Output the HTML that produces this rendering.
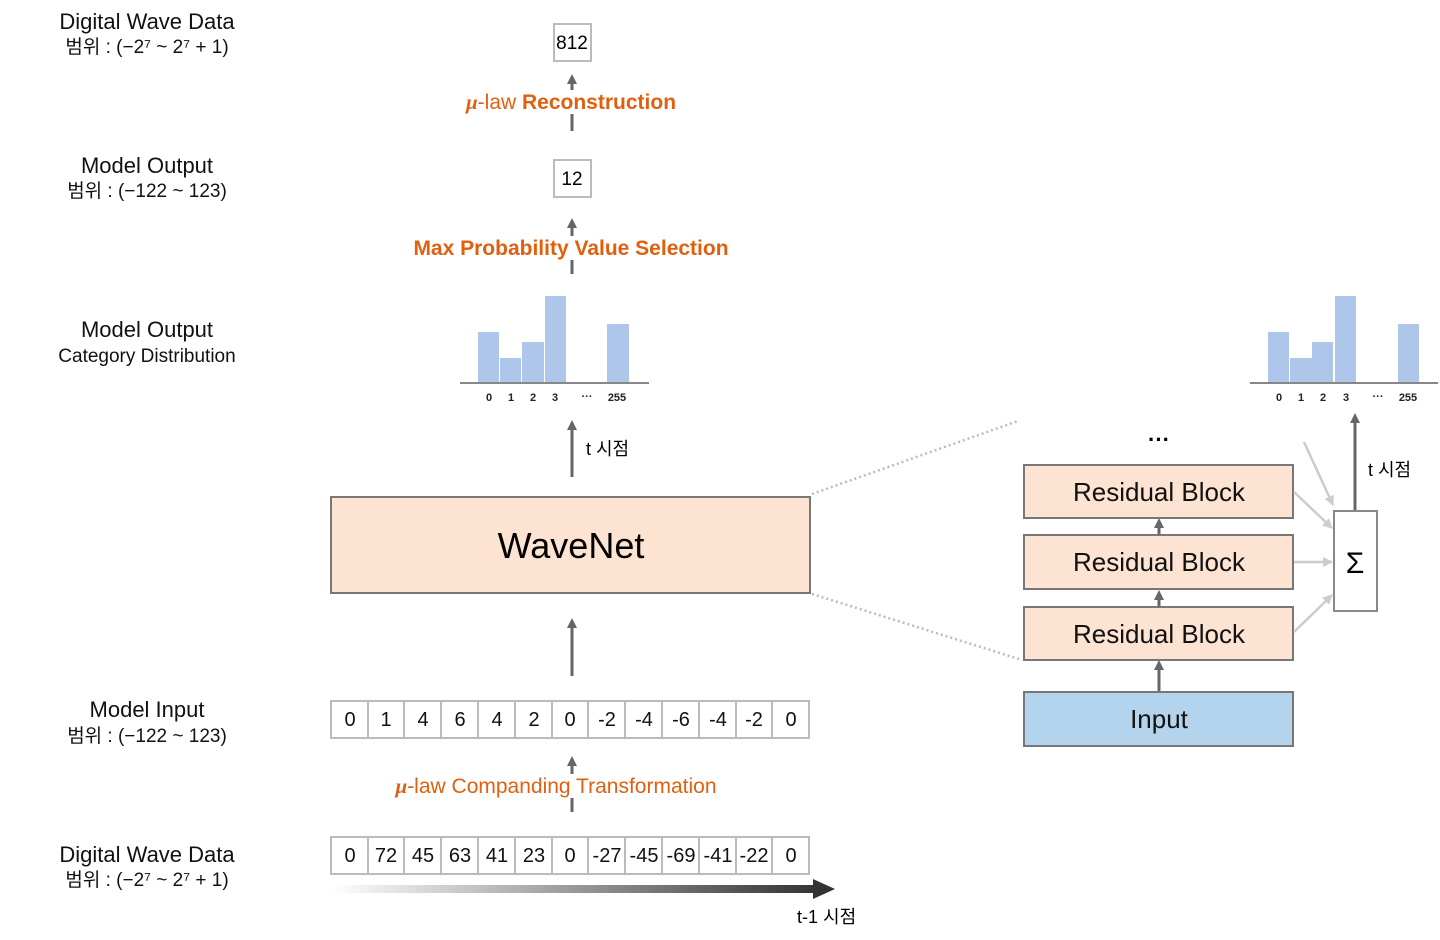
<!DOCTYPE html>
<html><head><meta charset="utf-8"><style>body{margin:0;background:#fff}svg{display:block}text{font-family:"Liberation Sans","Noto Sans CJK KR",sans-serif}</style></head><body>
<svg width="1440" height="940" viewBox="0 0 1440 940" xmlns="http://www.w3.org/2000/svg">
<defs>
<marker id="ah" markerWidth="10" markerHeight="10" refX="4" refY="5" orient="auto" markerUnits="userSpaceOnUse"><path d="M0,0 L10,5 L0,10 z" fill="#666"/></marker>
<marker id="al" markerWidth="10" markerHeight="10" refX="9" refY="5" orient="auto" markerUnits="userSpaceOnUse"><path d="M0,0 L10,5 L0,10 z" fill="#ccc"/></marker>
<linearGradient id="g" x1="0" x2="1"><stop offset="0" stop-color="#fff"/><stop offset="1" stop-color="#333"/></linearGradient>
</defs>
<g font-size="22" text-anchor="middle" fill="#111">
<text x="147" y="29">Digital Wave Data</text>
<text x="147" y="53" font-size="19">범위 : (−2⁷ ~ 2⁷ + 1)</text>
<text x="147" y="173">Model Output</text>
<text x="147" y="197" font-size="19">범위 : (−122 ~ 123)</text>
<text x="147" y="337">Model Output</text>
<text x="147" y="362" font-size="19">Category Distribution</text>
<text x="147" y="717">Model Input</text>
<text x="147" y="742" font-size="19">범위 : (−122 ~ 123)</text>
<text x="147" y="862">Digital Wave Data</text>
<text x="147" y="886" font-size="19">범위 : (−2⁷ ~ 2⁷ + 1)</text>
</g>
<g stroke="#bbb" stroke-width="2" fill="#fff"><rect x="554" y="24" width="37" height="37"/><rect x="554" y="160" width="37" height="37"/></g>
<text x="572" y="49" font-size="19" text-anchor="middle">812</text>
<text x="572" y="185" font-size="19" text-anchor="middle">12</text>
<g stroke="#666" stroke-width="3">
<line x1="572" y1="131" x2="572" y2="80" marker-end="url(#ah)"/>
<line x1="572" y1="274" x2="572" y2="224" marker-end="url(#ah)"/>
<line x1="572" y1="477" x2="572" y2="426" marker-end="url(#ah)"/>
<line x1="572" y1="676" x2="572" y2="624" marker-end="url(#ah)"/>
<line x1="572" y1="812" x2="572" y2="762" marker-end="url(#ah)"/>
<line x1="1355" y1="511" x2="1355" y2="419" marker-end="url(#ah)"/>
<line x1="1159" y1="535" x2="1159" y2="524" marker-end="url(#ah)"/>
<line x1="1159" y1="607" x2="1159" y2="596" marker-end="url(#ah)"/>
<line x1="1159" y1="692" x2="1159" y2="666" marker-end="url(#ah)"/>
</g>
<g fill="#e0600f" font-weight="bold" font-size="21" text-anchor="middle">
<rect x="462" y="90" width="218" height="24" fill="#fff"/>
<text x="571" y="109"><tspan font-style="italic" font-family="Liberation Serif">μ</tspan><tspan font-weight="normal">-law</tspan> Reconstruction</text>
<rect x="408" y="236" width="326" height="24" fill="#fff"/>
<text x="571" y="255">Max Probability Value Selection</text>
<rect x="386" y="774" width="340" height="24" fill="#fff"/>
<text x="556" y="793" font-weight="normal"><tspan font-style="italic" font-family="Liberation Serif" font-weight="bold">μ</tspan>-law Companding Transformation</text>
</g>
<g fill="#aec6ea"><rect x="478" y="332" width="21" height="51"/><rect x="500" y="358" width="21" height="25"/><rect x="522" y="342" width="22" height="41"/><rect x="545" y="296" width="21" height="87"/><rect x="607" y="324" width="22" height="59"/>
<rect x="1268" y="332" width="21" height="51"/><rect x="1290" y="358" width="22" height="25"/><rect x="1312" y="342" width="21" height="41"/><rect x="1335" y="296" width="21" height="87"/><rect x="1398" y="324" width="21" height="59"/></g>
<g stroke="#888" stroke-width="2"><line x1="460" y1="383" x2="649" y2="383"/><line x1="1250" y1="383" x2="1438" y2="383"/></g>
<g font-size="11" font-weight="bold" text-anchor="middle" fill="#222">
<text x="489" y="401">0</text><text x="511" y="401">1</text><text x="533" y="401">2</text><text x="555" y="401">3</text><text x="587" y="400">···</text><text x="617" y="401">255</text>
<text x="1279" y="401">0</text><text x="1301" y="401">1</text><text x="1323" y="401">2</text><text x="1346" y="401">3</text><text x="1378" y="400">···</text><text x="1408" y="401">255</text>
</g>
<text x="586" y="455" font-size="18">t 시점</text>
<text x="1368" y="476" font-size="18">t 시점</text>
<g stroke="#bbb" stroke-width="2.5" stroke-dasharray="2,3"><line x1="812" y1="494" x2="1018" y2="421"/><line x1="812" y1="594" x2="1022" y2="660"/></g>
<rect x="331" y="497" width="479" height="96" fill="#fde3d2" stroke="#777" stroke-width="2"/>
<text x="571" y="558" font-size="36" text-anchor="middle">WaveNet</text>
<g stroke="#bbb" stroke-width="2" fill="#fff">
<rect x="331" y="701" width="478" height="37"/><rect x="331" y="837" width="478" height="37"/>
</g>
<g stroke="#bbb" stroke-width="2">
<line x1="368" y1="701" x2="368" y2="738"/><line x1="404" y1="701" x2="404" y2="738"/><line x1="441" y1="701" x2="441" y2="738"/><line x1="478" y1="701" x2="478" y2="738"/><line x1="515" y1="701" x2="515" y2="738"/><line x1="552" y1="701" x2="552" y2="738"/><line x1="588" y1="701" x2="588" y2="738"/><line x1="625" y1="701" x2="625" y2="738"/><line x1="662" y1="701" x2="662" y2="738"/><line x1="699" y1="701" x2="699" y2="738"/><line x1="736" y1="701" x2="736" y2="738"/><line x1="772" y1="701" x2="772" y2="738"/>
<line x1="368" y1="837" x2="368" y2="874"/><line x1="404" y1="837" x2="404" y2="874"/><line x1="441" y1="837" x2="441" y2="874"/><line x1="478" y1="837" x2="478" y2="874"/><line x1="515" y1="837" x2="515" y2="874"/><line x1="552" y1="837" x2="552" y2="874"/><line x1="588" y1="837" x2="588" y2="874"/><line x1="625" y1="837" x2="625" y2="874"/><line x1="662" y1="837" x2="662" y2="874"/><line x1="699" y1="837" x2="699" y2="874"/><line x1="736" y1="837" x2="736" y2="874"/><line x1="772" y1="837" x2="772" y2="874"/>
</g>
<g font-size="20" text-anchor="middle" fill="#111">
<text x="350" y="726">0</text><text x="386" y="726">1</text><text x="423" y="726">4</text><text x="460" y="726">6</text><text x="497" y="726">4</text><text x="534" y="726">2</text><text x="570" y="726">0</text><text x="607" y="726">-2</text><text x="644" y="726">-4</text><text x="681" y="726">-6</text><text x="718" y="726">-4</text><text x="754" y="726">-2</text><text x="791" y="726">0</text>
<text x="350" y="862">0</text><text x="386" y="862">72</text><text x="423" y="862">45</text><text x="460" y="862">63</text><text x="497" y="862">41</text><text x="534" y="862">23</text><text x="570" y="862">0</text><text x="607" y="862">-27</text><text x="644" y="862">-45</text><text x="681" y="862">-69</text><text x="718" y="862">-41</text><text x="754" y="862">-22</text><text x="791" y="862">0</text>
</g>
<rect x="331" y="885" width="486" height="8" fill="url(#g)"/>
<path d="M813,879 L835,889 L813,899 z" fill="#333"/>
<text x="797" y="923" font-size="18">t-1 시점</text>
<text x="1159" y="447" font-size="22" font-weight="bold" text-anchor="middle">···</text>
<g stroke="#777" stroke-width="2" fill="#fde3d2">
<rect x="1024" y="465" width="269" height="53"/><rect x="1024" y="535" width="269" height="54"/><rect x="1024" y="607" width="269" height="53"/>
<rect x="1024" y="692" width="269" height="54" fill="#b4d4ee"/>
<rect x="1334" y="511" width="43" height="100" fill="#fff" stroke="#888"/>
</g>
<g font-size="26" text-anchor="middle" fill="#111">
<text x="1159" y="501">Residual Block</text><text x="1159" y="571">Residual Block</text><text x="1159" y="643">Residual Block</text><text x="1159" y="728">Input</text>
</g>
<text x="1355" y="573" font-size="30" text-anchor="middle" font-family="Liberation Serif">Σ</text>
<g stroke="#ccc" stroke-width="2.5">
<line x1="1294" y1="492" x2="1332" y2="528" marker-end="url(#al)"/>
<line x1="1294" y1="562" x2="1332" y2="562" marker-end="url(#al)"/>
<line x1="1294" y1="632" x2="1332" y2="595" marker-end="url(#al)"/>
<line x1="1304" y1="442" x2="1333" y2="505" marker-end="url(#al)"/>
</g>
</svg>
</body></html>
